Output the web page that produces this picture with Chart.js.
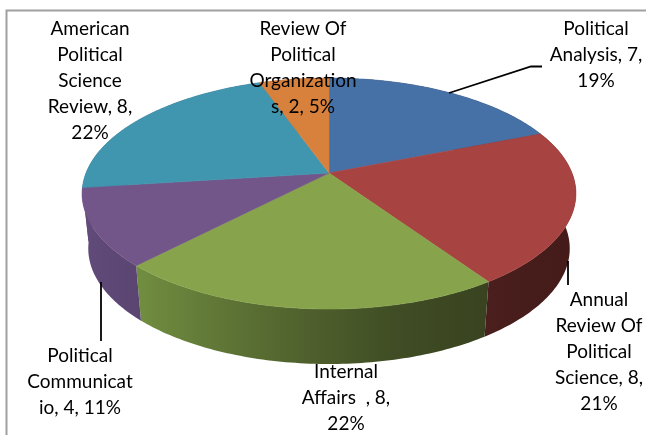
<!DOCTYPE html>
<html>
<head>
<meta charset="utf-8">
<style>
  html, body { margin: 0; padding: 0; background: #fff; }
  #wrap { position: relative; width: 646px; height: 435px; }
</style>
<script src="https://cdn.jsdelivr.net/npm/chart.js@4"></script>
</head>
<body>
<div id="wrap"><canvas id="chart" width="646" height="435"></canvas></div>
<script>
const categories = ["Political Analysis", "Annual Review Of Political Science", "Internal Affairs", "Political Communication", "American Political Science Review", "Review Of Political Organizations"];
const counts = [7, 8, 8, 4, 8, 2];
const percents = ["19%", "21%", "22%", "11%", "22%", "5%"];
// line breaks as they are in the picture
const labelLines = [
  ["Political", "Analysis, 7,", "19%"],
  ["Annual", "Review Of", "Political", "Science, 8,", "21%"],
  ["Internal", "Affairs  , 8,", "22%"],
  ["Political", "Communicat", "io, 4, 11%"],
  ["American", "Political", "Science", "Review, 8,", "22%"],
  ["Review Of", "Political", "Organization", "s, 2, 5%"],
];

const topColors = ["#4571a7", "#a74341", "#87a44c", "#72568a", "#4096ae", "#d8813d"];
// shading of the rim, left to right
const sideColors = [
  ["#441b19", "#441b19"],
  ["#4a1f1d", "#441b19"],
  ["#718e40", "#5f7536", "#4e5f2c", "#3f4c24", "#394320"],
  ["#614b7a", "#5a4470"],
  ["#614b7a", "#614b7a"],
  ["#614b7a", "#614b7a"],
];
const labelCenters = [[596, 29], [599, 300], [346, 372], [80, 356], [90, 29], [303, 29]];

const ctx = document.getElementById("chart").getContext("2d");

// circle seen at a tilt, near edge bigger than far edge
const tilt = { sx: 1.4727, sy: 0.678, p: 0.1775, depth: 55, shrink: 0.975 };

function project(arc, angle, low) {
  const u = Math.cos(angle), v = Math.sin(angle);
  const w = 1 - tilt.p * v;
  const k = low ? tilt.shrink : 1;
  return [
    arc.x + arc.outerRadius * tilt.sx * k * u / w,
    arc.y + arc.outerRadius * tilt.sy * v / w + (low ? tilt.depth : 0),
  ];
}

function arcPoints(arc, low) {
  const pts = [];
  const n = Math.ceil((arc.endAngle - arc.startAngle) * 60);
  for (let i = 0; i <= n; i++) {
    pts.push(project(arc, arc.startAngle + (arc.endAngle - arc.startAngle) * i / n, low));
  }
  return pts;
}

function trace(c, pts) {
  c.beginPath();
  pts.forEach((p, i) => (i ? c.lineTo(p[0], p[1]) : c.moveTo(p[0], p[1])));
  c.closePath();
}

const pie3d = {
  id: "pie3d",
  beforeDatasetsDraw(chart) {
    const c = chart.ctx;
    const arcs = chart.getDatasetMeta(0).data;
    c.save();
    // rim first, top faces go over it
    arcs.forEach((arc, i) => {
      const top = arcPoints(arc, false), low = arcPoints(arc, true);
      const xs = top.concat(low).map(p => p[0]);
      const x0 = Math.min(...xs), x1 = Math.max(...xs);
      const g = c.createLinearGradient(x0, 0, x1, 0);
      sideColors[i].forEach((col, j) => g.addColorStop(j / (sideColors[i].length - 1), col));
      trace(c, top.concat(low.reverse()));
      c.fillStyle = g;
      c.fill();
    });
    arcs.forEach((arc, i) => {
      trace(c, [[arc.x, arc.y]].concat(arcPoints(arc, false)));
      c.fillStyle = topColors[i];
      c.strokeStyle = topColors[i];
      c.lineWidth = 0.6;
      c.fill();
      c.stroke();
    });
    c.restore();
    return false;
  },
  afterDraw(chart) {
    const c = chart.ctx;
    c.save();
    // frame, open on the right and at the bottom
    c.strokeStyle = "#a0a0a0";
    c.lineWidth = 2;
    c.beginPath();
    c.moveTo(6.5, 435);
    c.lineTo(6.5, 10.5);
    c.lineTo(646, 10.5);
    c.stroke();
    // leader lines
    c.strokeStyle = "#000";
    c.lineWidth = 1.8;
    [
      [[449, 93], [531, 66.5], [542, 66.5]],
      [[568, 261], [568, 285]],
      [[101, 282], [101, 341]],
    ].forEach(line => {
      c.beginPath();
      line.forEach((p, i) => (i ? c.lineTo(p[0], p[1]) : c.moveTo(p[0], p[1])));
      c.stroke();
    });
    c.fillStyle = "#000";
    c.font = '19px Lato, "Open Sans", sans-serif';
    c.textAlign = "center";
    c.textBaseline = "middle";
    labelLines.forEach((lines, i) => {
      lines.forEach((t, j) => c.fillText(t, labelCenters[i][0], labelCenters[i][1] + j * 26));
    });
    c.restore();
  },
};

const chart = new Chart(ctx, {
  type: "pie",
  data: {
    labels: categories,
    datasets: [
      {
        data: counts,
        backgroundColor: topColors,
        borderWidth: 0,
      },
    ],
  },
  options: {
    responsive: false,
    animation: false,
    layout: { padding: { left: 164, right: 152, top: 8, bottom: 97 } },
    plugins: { legend: { display: false }, tooltip: { enabled: false } },
  },
  plugins: [pie3d],
});
</script>
</body>
</html>
